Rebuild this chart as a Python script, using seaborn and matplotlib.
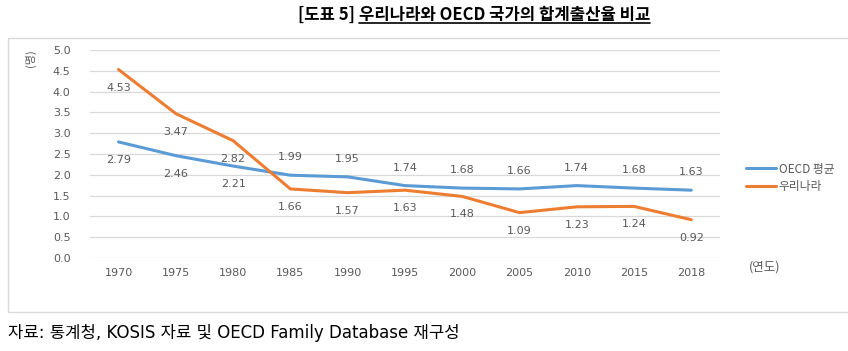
import numpy as np
import pandas as pd
import matplotlib.pyplot as plt
import seaborn as sns
from matplotlib.patches import Rectangle
from matplotlib.lines import Line2D

years = ['1970', '1975', '1980', '1985', '1990', '1995', '2000', '2005', '2010', '2015', '2018']
oecd = [2.79, 2.46, 2.21, 1.99, 1.95, 1.74, 1.68, 1.66, 1.74, 1.68, 1.63]
korea = [4.53, 3.47, 2.82, 1.66, 1.57, 1.63, 1.48, 1.09, 1.23, 1.24, 0.92]
series_names = ['OECD 평균', '우리나라']

sns.set_style('white')
plt.rcParams['font.family'] = ['DejaVu Sans', 'Noto Sans CJK KR']
kr = ['Noto Sans CJK KR', 'DejaVu Sans']

pos = np.arange(len(years))
df = pd.DataFrame({
    'pos': np.concatenate([pos, pos]),
    'value': oecd + korea,
    'series': [series_names[0]] * len(years) + [series_names[1]] * len(years),
})

blue = '#5B9BD5'
orange = '#ED7D31'
grey = '#595959'

fig = plt.figure(figsize=(8.48, 3.51), dpi=100)
ax = fig.add_axes([0.106, 0.265, 0.743, 0.5926])

sns.lineplot(data=df, x='pos', y='value', hue='series',
             palette={series_names[0]: blue, series_names[1]: orange},
             linewidth=2.2, ax=ax, legend=False)

ax.set_xlim(-0.5, len(years) - 0.5)
ax.set_ylim(0, 5)
ax.set_yticks(np.arange(0, 5.01, 0.5))
ax.set_yticklabels([f'{v:.1f}' for v in np.arange(0, 5.01, 0.5)], color=grey, fontsize=8)
ax.set_xticks(pos)
ax.set_xticklabels(years, color=grey, fontsize=8)
ax.tick_params(axis='y', length=0, pad=14)
ax.tick_params(axis='x', length=0, pad=7)
ax.set_xlabel('')
ax.set_ylabel('')
ax.grid(axis='y', color='#D9D9D9', linewidth=0.9)
ax.set_axisbelow(True)
for s in ax.spines.values():
    s.set_visible(False)

# data labels
for i, v in enumerate(oecd):
    off = -13 if i < 3 else 13
    ax.annotate(f'{v:.2f}', (pos[i], v), xytext=(0, off), textcoords='offset points',
                ha='center', va='center', fontsize=8, color=grey)
for i, v in enumerate(korea):
    ax.annotate(f'{v:.2f}', (pos[i], v), xytext=(0, -13), textcoords='offset points',
                ha='center', va='center', fontsize=8, color=grey)

# unit labels
fig.text(30 / 848, 1 - 58 / 351, '(명)', rotation=90, ha='center', va='center',
         fontsize=8, color=grey, family=kr)
fig.text(765 / 848, 1 - 267 / 351, '(연도)', ha='center', va='center',
         fontsize=9, color=grey, family=kr)

# legend
handles = [Line2D([], [], color=blue, lw=2.2), Line2D([], [], color=orange, lw=2.2)]
leg = fig.legend(handles, series_names, loc='upper left', bbox_to_anchor=(735 / 848, 1 - 152 / 351),
                 frameon=False, fontsize=8.5, handlelength=2.6, handletextpad=0.2,
                 labelspacing=0.35, labelcolor=grey)
for txt in leg.get_texts():
    txt.set_family(kr)

# frame box
fig.patches.append(Rectangle((8 / 848, 1 - 312 / 351), 850 / 848, 274 / 351,
                             transform=fig.transFigure, fill=False,
                             edgecolor='#D9D9D9', linewidth=1))

# title with underline on the second part
t1 = fig.text(298 / 848, 1 - 15 / 351, '[도표 5] ', ha='left', va='center',
              fontsize=12, fontweight='bold', color='black', family=kr)
fig.canvas.draw()
r = fig.canvas.get_renderer()
bb1 = t1.get_window_extent(r)
t2 = fig.text(bb1.x1 / fig.bbox.width, 1 - 15 / 351, '우리나라와 OECD 국가의 합계출산율 비교',
              ha='left', va='center', fontsize=12, fontweight='bold', color='black', family=kr)
fig.canvas.draw()
bb2 = t2.get_window_extent(r)
uy = (bb2.y0 + 1) / fig.bbox.height
fig.add_artist(Line2D([bb2.x0 / fig.bbox.width, bb2.x1 / fig.bbox.width], [uy, uy],
                      transform=fig.transFigure, color='black', lw=1.2))

# source
fig.text(8 / 848, 1 - 333 / 351, '자료: 통계청, KOSIS 자료 및 OECD Family Database 재구성',
         ha='left', va='center', fontsize=12, color='black')

fig.savefig('out.png', dpi=100)
